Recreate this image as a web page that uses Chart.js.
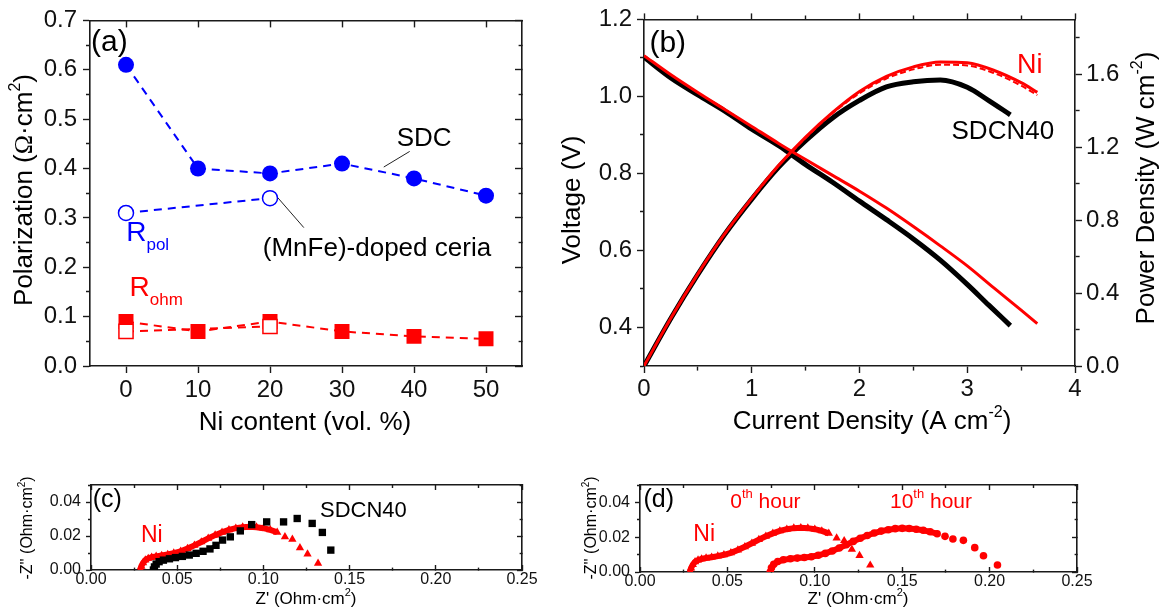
<!DOCTYPE html>
<html>
<head>
<meta charset="utf-8">
<title>Polarization, I-V-P and impedance</title>
<script src="https://cdn.jsdelivr.net/npm/chart.js@4.4.1/dist/chart.umd.min.js"></script>
<style>
  html, body { margin: 0; padding: 0; background: #fff; }
  #figure { position: relative; width: 1164px; height: 613px; overflow: hidden; background: #fff; }
  #figure canvas { position: absolute; }
</style>
</head>
<body>
<div id="figure">
  <canvas id="panelA" width="560" height="440" style="left:0px;top:0px"></canvas>
  <canvas id="panelB" width="604" height="440" style="left:560px;top:0px"></canvas>
  <canvas id="panelC" width="560" height="153" style="left:0px;top:460px"></canvas>
  <canvas id="panelD" width="584" height="153" style="left:580px;top:460px"></canvas>
</div>
<script>
// (a) electrode resistances vs Ni content
const NI_CONTENT = [0, 10, 20, 30, 40, 50];
const RPOL_SDC = [0.61, 0.40, 0.39, 0.41, 0.38, 0.345];
const ROHM_SDC = [0.09, 0.07, 0.09, 0.07, 0.06, 0.055];
const NI_CONTENT_MNFE = [0, 20];
const RPOL_MNFE = [0.31, 0.34];
const ROHM_MNFE = [0.07, 0.08];

// (b) I-V and I-P curves
const I_SDCN40 = [0, 0.25, 0.5, 0.75, 1.0, 1.25, 1.5, 1.75, 2.0, 2.25, 2.5, 2.75, 3.0, 3.2, 3.4];
const V_SDCN40 = [1.102, 1.048, 1.004, 0.962, 0.915, 0.872, 0.823, 0.777, 0.728, 0.68, 0.63, 0.575, 0.512, 0.458, 0.405];
const P_SDCN40 = [0, 0.262, 0.502, 0.722, 0.915, 1.09, 1.235, 1.36, 1.456, 1.53, 1.558, 1.568, 1.528, 1.455, 1.377];
const I_NI = [0, 0.25, 0.5, 0.75, 1.0, 1.25, 1.5, 1.75, 2.0, 2.25, 2.5, 2.75, 3.0, 3.25, 3.5, 3.65];
const V_NI = [1.106, 1.056, 1.01, 0.966, 0.922, 0.878, 0.836, 0.795, 0.754, 0.71, 0.662, 0.612, 0.56, 0.502, 0.445, 0.41];
const P_NI = [0, 0.263, 0.505, 0.725, 0.92, 1.1, 1.255, 1.39, 1.505, 1.588, 1.64, 1.667, 1.662, 1.62, 1.553, 1.5];
const P_NI_REPEAT = [0, 0.262, 0.503, 0.722, 0.917, 1.097, 1.25, 1.385, 1.495, 1.576, 1.626, 1.652, 1.647, 1.605, 1.537, 1.485];

// (c)/(d) impedance spectra, Z' and -Z''
const NI_RE = [0.0285, 0.0292, 0.0302, 0.0315, 0.0332, 0.0352, 0.0378, 0.041, 0.0445, 0.048, 0.052, 0.056, 0.06, 0.064, 0.068, 0.072, 0.076, 0.08, 0.084, 0.088, 0.092, 0.096, 0.1, 0.104, 0.108];
const NI_IM = [0.0, 0.0022, 0.0042, 0.0058, 0.0068, 0.0075, 0.008, 0.0085, 0.0091, 0.0099, 0.011, 0.0126, 0.0145, 0.0165, 0.0186, 0.0205, 0.0222, 0.0236, 0.0246, 0.0252, 0.0254, 0.0252, 0.0246, 0.0236, 0.0222];
const NI_RE_TAIL = [0.1125, 0.1168, 0.1212, 0.1256, 0.1317];
const NI_IM_TAIL = [0.0195, 0.018, 0.013, 0.0094, 0.0039];

const SDCN40_RE = [0.0362, 0.0368, 0.0378, 0.0395, 0.042, 0.0455, 0.049, 0.053, 0.057, 0.061, 0.065, 0.069, 0.0725];
const SDCN40_IM = [0.0, 0.0018, 0.0035, 0.0049, 0.0058, 0.0066, 0.0073, 0.008, 0.0088, 0.0098, 0.011, 0.0124, 0.0145];
const SDCN40_RE_TAIL = [0.0763, 0.0808, 0.0866, 0.0932, 0.1019, 0.1117, 0.1196, 0.1283, 0.1342, 0.1391];
const SDCN40_IM_TAIL = [0.0176, 0.0195, 0.023, 0.0267, 0.0283, 0.0283, 0.0303, 0.0274, 0.0221, 0.0117];

const NI10_RE = [0.0745, 0.0752, 0.0765, 0.0788, 0.082, 0.086, 0.09, 0.094, 0.098, 0.102, 0.106, 0.11, 0.114, 0.118, 0.122, 0.126, 0.13, 0.134, 0.138, 0.142, 0.146, 0.15, 0.154, 0.158, 0.162, 0.166, 0.17];
const NI10_IM = [0.0, 0.0024, 0.0044, 0.006, 0.007, 0.0076, 0.008, 0.0083, 0.0088, 0.0096, 0.0107, 0.0121, 0.0138, 0.0157, 0.0176, 0.0194, 0.021, 0.0224, 0.0235, 0.0243, 0.0249, 0.0251, 0.025, 0.0246, 0.024, 0.0231, 0.022];
const NI10_RE_TAIL = [0.1745, 0.179, 0.185, 0.1915, 0.1965, 0.2045];
const NI10_IM_TAIL = [0.0205, 0.019, 0.0182, 0.014, 0.0093, 0.004];

// tick values (major carry labels, minor are short marks)
const A_X_MAJOR = [0, 10, 20, 30, 40, 50];
const A_Y_MAJOR = [0, 0.1, 0.2, 0.3, 0.4, 0.5, 0.6, 0.7];
const A_Y_MINOR = [0.05, 0.15, 0.25, 0.35, 0.45, 0.55, 0.65];
const B_X_MAJOR = [0, 1, 2, 3, 4];
const B_X_MINOR = [0.5, 1.5, 2.5, 3.5];
const B_V_MAJOR = [0.4, 0.6, 0.8, 1.0, 1.2];
const B_V_MINOR = [0.3, 0.5, 0.7, 0.9, 1.1];
const B_P_MAJOR = [0, 0.4, 0.8, 1.2, 1.6];
const B_P_MINOR = [0.2, 0.6, 1.0, 1.4, 1.8];
const Z_X_MAJOR = [0, 0.05, 0.1, 0.15, 0.2, 0.25];
const Z_X_MINOR = [0.025, 0.075, 0.125, 0.175, 0.225];
const Z_Y_MAJOR = [0, 0.02, 0.04];
const Z_Y_MINOR = [0.01, 0.03, 0.05];

const FONT = '"Liberation Sans", Arial, Helvetica, sans-serif';
const AXIS = '#1a1a1a';
const BLUE = '#0000ff';
const RED = '#ff0000';

function pts(xs, ys) {
    return xs.map(function (x, i) { return { x: x, y: ys[i] }; });
}

// draws a string made of parts, some raised or lowered
function rich(ctx, parts, x, y, size, color, rot, align) {
    var items = parts.map(function (p) {
        if (typeof p === 'string') p = { t: p };
        var s = (p.sup || p.sub) ? Math.round(size * 0.62) : size;
        var fam = p.serif ? '"Liberation Serif", "DejaVu Serif", serif' : FONT;
        return { t: p.t, font: s + 'px ' + fam, dy: p.sup ? -size * 0.36 : (p.sub ? size * 0.42 : 0) };
    });
    ctx.save();
    ctx.translate(x, y);
    ctx.rotate(rot || 0);
    ctx.fillStyle = color;
    ctx.textBaseline = 'middle';
    ctx.textAlign = 'left';
    var total = 0;
    items.forEach(function (it) { ctx.font = it.font; it.w = ctx.measureText(it.t).width; total += it.w; });
    var cx = align === 'left' ? 0 : (align === 'right' ? -total : -total / 2);
    items.forEach(function (it) { ctx.font = it.font; ctx.fillText(it.t, cx, it.dy); cx += it.w; });
    ctx.restore();
}

// labels, leader lines and axis titles for one panel
function notes(items) {
    return {
        id: 'notes',
        afterDraw: function (chart) {
            var ctx = chart.ctx;
            items.forEach(function (n) {
                var sx = chart.scales[n.xs || 'x'], sy = chart.scales[n.ys || 'y'];
                if (n.line) {
                    ctx.save();
                    ctx.strokeStyle = '#222';
                    ctx.lineWidth = 1;
                    ctx.beginPath();
                    ctx.moveTo(sx.getPixelForValue(n.line[0]), sy.getPixelForValue(n.line[1]));
                    ctx.lineTo(sx.getPixelForValue(n.line[2]), sy.getPixelForValue(n.line[3]));
                    ctx.stroke();
                    ctx.restore();
                    return;
                }
                var x = n.xv !== undefined ? sx.getPixelForValue(n.xv) : n.px;
                var y = n.yv !== undefined ? sy.getPixelForValue(n.yv) : n.py;
                rich(ctx, n.parts, x, y, n.size, n.color || '#000', n.rot || 0, n.align || 'center');
            });
        }
    };
}

function axis(o) {
    var L = Math.abs(o.tick);
    var m = o.minorLen || 4;
    var endDash = [0, L - m, m + 20, 0];   // mark drawn from far end toward the axis line
    var startDash = [m, 100];               // mark drawn from the axis line outward
    var near = (o.pos === 'left' || o.pos === 'top');
    var major = o.major, minor = o.minor || [];
    return {
        type: 'linear',
        position: o.pos,
        min: o.min,
        max: o.max,
        afterBuildTicks: function (scale) {
            var list = major.map(function (v) { return { value: v, minor: false }; })
                .concat(minor.map(function (v) { return { value: v, minor: true }; }));
            list.sort(function (a, b) { return a.value - b.value; });
            scale.ticks = list;
        },
        afterFit: function (s) {
            if (s.isHorizontal()) s.height = o.size; else s.width = o.size;
        },
        border: { display: true, color: AXIS, width: 1.6 },
        grid: {
            display: true,
            drawOnChartArea: false,
            drawTicks: true,
            tickLength: o.tick,
            tickWidth: 1.4,
            tickColor: AXIS,
            tickBorderDash: function (c) {
                return (c.tick && c.tick.minor) ? (near ? endDash : startDash) : [];
            }
        },
        ticks: {
            display: !!o.fmt,
            autoSkip: false,
            maxRotation: 0,
            minRotation: 0,
            padding: o.pad || 0,
            color: '#111',
            font: { family: FONT, size: o.font || 24, lineHeight: o.lh || 1.2 },
            callback: function (v, i, ts) {
                return (ts[i] && ts[i].minor) ? '' : (o.fmt ? o.fmt(v) : '');
            }
        }
    };
}

function baseOptions(padding, scales) {
    return {
        responsive: false,
        animation: false,
        events: [],
        layout: { padding: padding },
        plugins: { legend: { display: false }, tooltip: { enabled: false } },
        elements: { line: { fill: false } },
        scales: scales
    };
}

var fmt1 = function (v) { return v.toFixed(1); };
var fmt2 = function (v) { return v.toFixed(2); };
var fmt0 = function (v) { return String(Math.round(v)); };

// ---------- (a) ----------
new Chart(document.getElementById('panelA'), {
    type: 'line',
    data: {
        datasets: [
            { data: pts(NI_CONTENT_MNFE, RPOL_MNFE), borderColor: BLUE, borderWidth: 2, borderDash: [8, 6],
              pointStyle: 'circle', pointRadius: 7.5, pointBackgroundColor: '#fff', pointBorderColor: BLUE, pointBorderWidth: 1.5 },
            { data: pts(NI_CONTENT, RPOL_SDC), borderColor: BLUE, borderWidth: 2, borderDash: [8, 6],
              pointStyle: 'circle', pointRadius: 8, pointBackgroundColor: BLUE, pointBorderWidth: 0 },
            { data: pts(NI_CONTENT_MNFE, ROHM_MNFE), borderColor: RED, borderWidth: 2, borderDash: [8, 6],
              pointStyle: 'rect', pointRadius: 10, pointBackgroundColor: '#fff', pointBorderColor: RED, pointBorderWidth: 1.5 },
            { data: pts(NI_CONTENT, ROHM_SDC), borderColor: RED, borderWidth: 2, borderDash: [8, 6],
              pointStyle: 'rect', pointRadius: 10.6, pointBackgroundColor: RED, pointBorderWidth: 0 }
        ]
    },
    options: baseOptions({ left: 0, top: 18, right: 38, bottom: 0 }, {
        x: axis({ pos: 'bottom', min: -5, max: 55, major: A_X_MAJOR, tick: 7, size: 74, pad: 3, fmt: fmt0 }),
        xTop: axis({ pos: 'top', min: -5, max: 55, major: A_X_MAJOR, tick: -7, size: 0 }),
        y: axis({ pos: 'left', min: 0, max: 0.7, major: A_Y_MAJOR, minor: A_Y_MINOR, tick: 7, size: 90, pad: 6, fmt: fmt1 }),
        yRight: axis({ pos: 'right', min: 0, max: 0.7, major: A_Y_MAJOR, minor: A_Y_MINOR, tick: -7, size: 0 })
    }),
    plugins: [notes([
        { parts: ['(a)'], xv: -4.85, yv: 0.654, size: 30, align: 'left' },
        { parts: ['SDC'], xv: 41.4, yv: 0.461, size: 26 },
        { line: [39.4, 0.4346, 35.8, 0.403] },
        { parts: ['(MnFe)-doped ceria'], xv: 19.0, yv: 0.237, size: 26, align: 'left' },
        { line: [21.1, 0.3406, 24.7, 0.2803] },
        { parts: ['R', { t: 'pol', sub: true }], xv: 0.03, yv: 0.268, size: 28, color: BLUE, align: 'left' },
        { parts: ['R', { t: 'ohm', sub: true }], xv: 0.5, yv: 0.157, size: 28, color: RED, align: 'left' },
        { parts: ['Polarization (', { t: 'Ω', serif: true }, '·cm', { t: '2', sup: true }, ')'], px: 25, py: 190, size: 26, rot: -Math.PI / 2 },
        { parts: ['Ni content (vol. %)'], px: 305, py: 423, size: 26 }
    ])]
});

// ---------- (b) ----------
new Chart(document.getElementById('panelB'), {
    type: 'line',
    data: {
        datasets: [
            { data: pts(I_NI, V_NI), yAxisID: 'yV', borderColor: RED, borderWidth: 3, pointRadius: 0, cubicInterpolationMode: 'monotone' },
            { data: pts(I_NI, P_NI), yAxisID: 'yP', borderColor: RED, borderWidth: 3, pointRadius: 0, cubicInterpolationMode: 'monotone' },
            { data: pts(I_NI, P_NI_REPEAT), yAxisID: 'yP', borderColor: RED, borderWidth: 2, borderDash: [6, 3], pointRadius: 0, cubicInterpolationMode: 'monotone' },
            { data: pts(I_SDCN40, V_SDCN40), yAxisID: 'yV', borderColor: '#000', borderWidth: 5, pointRadius: 0, cubicInterpolationMode: 'monotone' },
            { data: pts(I_SDCN40, P_SDCN40), yAxisID: 'yP', borderColor: '#000', borderWidth: 5, pointRadius: 0, cubicInterpolationMode: 'monotone' }
        ]
    },
    options: baseOptions({ left: 0, top: 17, right: 0, bottom: 0 }, {
        x: axis({ pos: 'bottom', min: 0, max: 4, major: B_X_MAJOR, minor: B_X_MINOR, tick: 7, size: 74, pad: 2, fmt: fmt0 }),
        xTop: axis({ pos: 'top', min: 0, max: 4, major: B_X_MAJOR, minor: B_X_MINOR, tick: 6, size: 0 }),
        yV: axis({ pos: 'left', min: 0.3, max: 1.2, major: B_V_MAJOR, minor: B_V_MINOR, tick: 7, size: 84, pad: 5, fmt: fmt1 }),
        yP: axis({ pos: 'right', min: 0, max: 1.9, major: B_P_MAJOR, minor: B_P_MINOR, tick: 7, size: 89, pad: 4, fmt: fmt1 })
    }),
    plugins: [notes([
        { parts: ['(b)'], xv: 0.05, yv: 1.138, ys: 'yV', size: 30, align: 'left' },
        { parts: ['Ni'], xv: 3.58, yv: 1.081, ys: 'yV', size: 27, color: RED },
        { parts: ['SDCN40'], xv: 3.33, yv: 0.908, ys: 'yV', size: 26 },
        { parts: ['Voltage (V)'], px: 13, py: 200, size: 26, rot: -Math.PI / 2 },
        { parts: ['Current Density (A cm', { t: '-2', sup: true }, ')'], px: 312, py: 422, size: 26 },
        { parts: ['Power Density (W cm', { t: '-2', sup: true }, ')'], px: 587, py: 188, size: 26, rot: -Math.PI / 2 }
    ])]
});

// ---------- impedance panels ----------
function zAxes(ySize, xSize) {
    return {
        x: axis({ pos: 'bottom', min: 0, max: 0.25, major: Z_X_MAJOR, minor: Z_X_MINOR, tick: -5, minorLen: 3, size: xSize, pad: 7, font: 16, lh: 1, fmt: fmt2 }),
        xTop: axis({ pos: 'top', min: 0, max: 0.25, major: Z_X_MAJOR, minor: Z_X_MINOR, tick: -5, minorLen: 3, size: 0 }),
        y: axis({ pos: 'left', min: 0, max: 0.05, major: Z_Y_MAJOR, minor: Z_Y_MINOR, tick: 5, minorLen: 3, size: ySize, pad: 5, font: 16, lh: 1, fmt: fmt2 }),
        yRight: axis({ pos: 'right', min: 0, max: 0.05, major: Z_Y_MAJOR, minor: Z_Y_MINOR, tick: -5, minorLen: 3, size: 0 })
    };
}

function dense(xs, ys, color, style, r, w) {
    return { data: pts(xs, ys), borderColor: color, borderWidth: w, pointStyle: style, pointRadius: r,
             pointBackgroundColor: color, pointBorderWidth: 0, showLine: true };
}
function sparse(xs, ys, color, style, r) {
    return { data: pts(xs, ys), borderColor: color, pointStyle: style, pointRadius: r,
             pointBackgroundColor: color, pointBorderWidth: 0, showLine: false };
}

// (c)
new Chart(document.getElementById('panelC'), {
    type: 'line',
    data: {
        datasets: [
            dense(SDCN40_RE, SDCN40_IM, '#000', 'rect', 5.2, 4),
            sparse(SDCN40_RE_TAIL, SDCN40_IM_TAIL, '#000', 'rect', 5.2),
            dense(NI_RE, NI_IM, RED, 'triangle', 4.8, 6),
            sparse(NI_RE_TAIL, NI_IM_TAIL, RED, 'triangle', 4.8)
        ]
    },
    options: baseOptions({ left: 0, top: 25, right: 38, bottom: 0 }, zAxes(91, 43)),
    plugins: [notes([
        { parts: ['(c)'], xv: 0.001, yv: 0.0413, size: 25, align: 'left' },
        { parts: ['SDCN40'], xv: 0.158, yv: 0.035, size: 22 },
        { parts: ['Ni'], xv: 0.029, yv: 0.0204, size: 23, color: RED, align: 'left' },
        { parts: ["-Z'' (Ohm·cm", { t: '2', sup: true }, ')'], px: 28, py: 68, size: 16, rot: -Math.PI / 2 },
        { parts: ["Z' (Ohm·cm", { t: '2', sup: true }, ')'], px: 306, py: 139, size: 17 }
    ])]
});

// (d)
new Chart(document.getElementById('panelD'), {
    type: 'line',
    data: {
        datasets: [
            dense(NI_RE, NI_IM, RED, 'triangle', 4.8, 6),
            sparse(NI_RE_TAIL, NI_IM_TAIL, RED, 'triangle', 4.8),
            dense(NI10_RE, NI10_IM, RED, 'circle', 3.8, 6),
            sparse(NI10_RE_TAIL, NI10_IM_TAIL, RED, 'circle', 3.8)
        ]
    },
    options: baseOptions({ left: 0, top: 25, right: 87, bottom: 0 }, zAxes(60, 41)),
    plugins: [notes([
        { parts: ['(d)'], xv: 0.002, yv: 0.0415, size: 25, align: 'left' },
        { parts: ['0', { t: 'th', sup: true }, ' hour'], xv: 0.0516, yv: 0.0404, size: 21, color: RED, align: 'left' },
        { parts: ['10', { t: 'th', sup: true }, ' hour'], xv: 0.143, yv: 0.0404, size: 21, color: RED, align: 'left' },
        { parts: ['Ni'], xv: 0.0305, yv: 0.0212, size: 23, color: RED, align: 'left' },
        { parts: ["-Z'' (Ohm·cm", { t: '2', sup: true }, ')'], px: 12, py: 68, size: 16, rot: -Math.PI / 2 },
        { parts: ["Z' (Ohm·cm", { t: '2', sup: true }, ')'], px: 278, py: 139, size: 17 }
    ])]
});
</script>
</body>
</html>
